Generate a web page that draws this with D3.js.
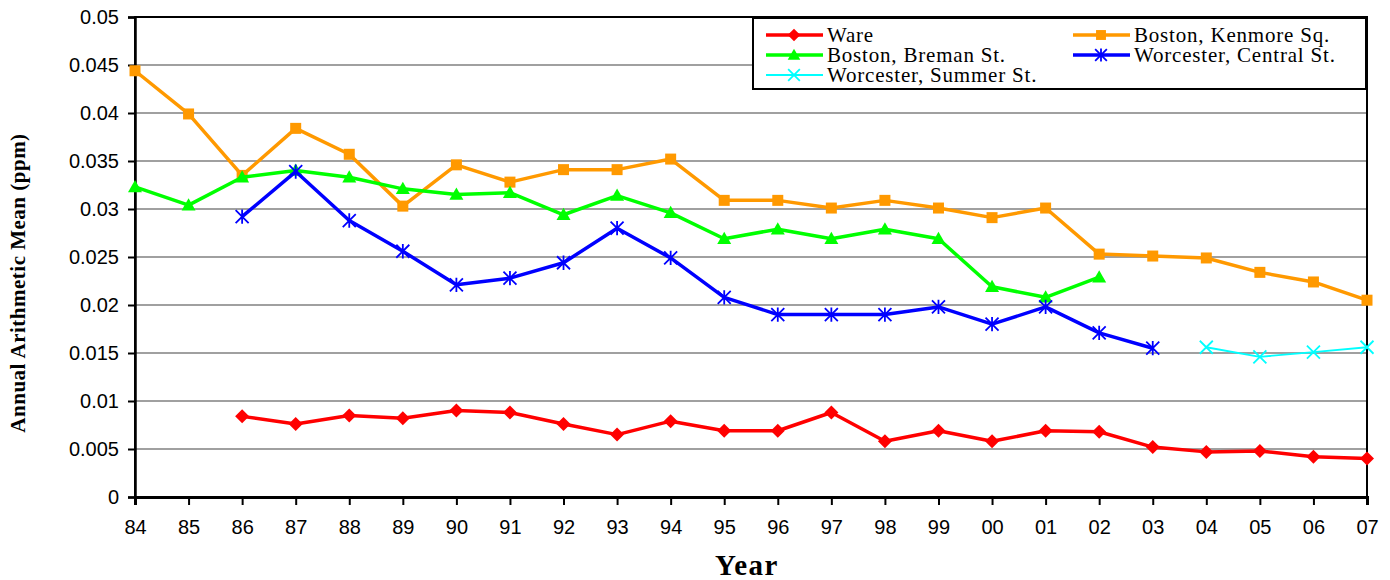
<!DOCTYPE html>
<html><head><meta charset="utf-8">
<script src="https://cdn.jsdelivr.net/npm/d3@7/dist/d3.min.js"></script>
<style>body{margin:0;background:#fff;}svg{display:block;}</style>
</head><body>
<svg id="chart" width="1390" height="580"></svg>
<script>
const years = ["84","85","86","87","88","89","90","91","92","93","94","95","96","97","98","99","00","01","02","03","04","05","06","07"];
const yTicks = [0,0.005,0.01,0.015,0.02,0.025,0.03,0.035,0.04,0.045,0.05];
const yTickLabels = ["0","0.005","0.01","0.015","0.02","0.025","0.03","0.035","0.04","0.045","0.05"];
const ware = [null,null,0.0084,0.0076,0.0085,0.0082,0.0090,0.0088,0.0076,0.0065,0.0079,0.0069,0.0069,0.0088,0.0058,0.0069,0.0058,0.0069,0.0068,0.0052,0.0047,0.0048,0.0042,0.0040];
const kenmore = [0.0444,0.0399,0.0335,0.0384,0.0357,0.0303,0.0346,0.0328,0.0341,0.0341,0.0352,0.0309,0.0309,0.0301,0.0309,0.0301,0.0291,0.0301,0.0253,0.0251,0.0249,0.0234,0.0224,0.0205];
const breman = [0.0323,0.0304,0.0333,0.0340,0.0333,0.0321,0.0315,0.0317,0.0294,0.0314,0.0296,0.0269,0.0279,0.0269,0.0279,0.0269,0.0219,0.0208,0.0229,null,null,null,null,null];
const central = [null,null,0.0292,0.0339,0.0288,0.0256,0.0221,0.0228,0.0244,0.0280,0.0249,0.0208,0.0190,0.0190,0.0190,0.0198,0.0180,0.0198,0.0171,0.0155,null,null,null,null];
const summer = [null,null,null,null,null,null,null,null,null,null,null,null,null,null,null,null,null,null,null,null,0.0156,0.0146,0.0151,0.0156];

const series = [
  {name:"Ware", values:ware, color:"#ff0000", width:3.5, marker:"diamond"},
  {name:"Boston, Kenmore Sq.", values:kenmore, color:"#ff9900", width:3.5, marker:"square"},
  {name:"Boston, Breman St.", values:breman, color:"#00ff00", width:3.5, marker:"triangle"},
  {name:"Worcester, Central St.", values:central, color:"#0000ff", width:3.5, marker:"star"},
  {name:"Worcester, Summer St.", values:summer, color:"#00ffff", width:1.8, marker:"x"}
];

const svg = d3.select("#chart");
const L = 135, R = 1367, T = 17, B = 497;
const x = d3.scalePoint().domain(years).range([L, R]);
const y = d3.scaleLinear().domain([0, 0.05]).range([B, T]);

// gridlines
svg.append("g").selectAll("line").data(yTicks.slice(1)).join("line")
  .attr("x1", L).attr("x2", R).attr("y1", d => y(d)).attr("y2", d => y(d))
  .attr("stroke", "#808080").attr("stroke-width", 1.6);

// plot border
svg.append("rect").attr("x", L).attr("y", T).attr("width", R - L).attr("height", B - T)
  .attr("fill", "none").attr("stroke", "#000").attr("stroke-width", 2);

// y axis
const yAxis = d3.axisLeft(y).tickValues(yTicks).tickFormat((d,i) => yTickLabels[i]).tickSize(7).tickPadding(9);
const gy = svg.append("g").attr("transform", `translate(${L},0)`).call(yAxis);
gy.select(".domain").attr("stroke-width", 2.5);
gy.selectAll(".tick line").attr("stroke-width", 2);
gy.selectAll("text").attr("font-family", "Arial, 'Liberation Sans', sans-serif").attr("font-size", 20).attr("fill", "#000");

// x axis
const xAxis = d3.axisBottom(x).tickSize(8).tickPadding(15);
const gx = svg.append("g").attr("transform", `translate(0,${B})`).call(xAxis);
gx.select(".domain").attr("stroke-width", 3);
gx.selectAll(".tick line").attr("stroke-width", 2);
gx.selectAll("text").attr("font-family", "Arial, 'Liberation Sans', sans-serif").attr("font-size", 20).attr("fill", "#000");

// axis titles
svg.append("text").attr("transform", `translate(25,283) rotate(-90)`)
  .attr("text-anchor", "middle").attr("font-family", "'Liberation Serif', 'Times New Roman', serif")
  .attr("font-weight", "bold").attr("font-size", 21).attr("letter-spacing", 0.5).text("Annual Arithmetic Mean (ppm)");
svg.append("text").attr("x", 747).attr("y", 575).attr("text-anchor", "middle")
  .attr("font-family", "'Liberation Serif', 'Times New Roman', serif")
  .attr("font-weight", "bold").attr("font-size", 29).attr("letter-spacing", 1.5).text("Year");

function drawMarker(g, type, color, cx, cy, scale) {
  const s = scale || 1;
  if (type === "diamond") {
    const r = 7 * s;
    g.append("path").attr("d", `M${cx},${cy-r}L${cx+r},${cy}L${cx},${cy+r}L${cx-r},${cy}Z`).attr("fill", color);
  } else if (type === "square") {
    const r = 5.5 * s;
    g.append("rect").attr("x", cx-r).attr("y", cy-r).attr("width", 2*r).attr("height", 2*r).attr("fill", color);
  } else if (type === "triangle") {
    const r = 7 * s;
    g.append("path").attr("d", `M${cx},${cy-r}L${cx+r},${cy+r*0.75}L${cx-r},${cy+r*0.75}Z`).attr("fill", color);
  } else if (type === "star") {
    const r = 6.5 * s;
    const p = `M${cx-r},${cy-r}L${cx+r},${cy+r}M${cx-r},${cy+r}L${cx+r},${cy-r}M${cx},${cy-r*1.1}L${cx},${cy+r*1.1}`;
    g.append("path").attr("d", p).attr("stroke", color).attr("stroke-width", 1.8).attr("fill", "none");
  } else if (type === "x") {
    const r = 6.5 * s;
    const p = `M${cx-r},${cy-r}L${cx+r},${cy+r}M${cx-r},${cy+r}L${cx+r},${cy-r}`;
    g.append("path").attr("d", p).attr("stroke", color).attr("stroke-width", 1.8).attr("fill", "none");
  }
}

const line = d3.line().defined(d => d.v != null).x(d => x(d.year)).y(d => y(d.v));
series.forEach(s => {
  const pts = s.values.map((v,i) => ({year: years[i], v}));
  const g = svg.append("g");
  g.append("path").datum(pts).attr("d", line).attr("fill", "none")
    .attr("stroke", s.color).attr("stroke-width", s.width).attr("stroke-linejoin", "round");
  pts.filter(p => p.v != null).forEach(p => drawMarker(g, s.marker, s.color, x(p.year), y(p.v)));
});

// legend
const lg = svg.append("g");
lg.append("rect").attr("x", 753).attr("y", 18).attr("width", 613).attr("height", 71)
  .attr("fill", "#fff").attr("stroke", "#000").attr("stroke-width", 2);
const legPos = [
  {x:766, y:35}, {x:1073, y:35}, {x:766, y:55}, {x:1073, y:55}, {x:766, y:75}
];
series.forEach((s,i) => {
  const p = legPos[i];
  lg.append("line").attr("x1", p.x).attr("x2", p.x + 57).attr("y1", p.y).attr("y2", p.y)
    .attr("stroke", s.color).attr("stroke-width", s.width);
  drawMarker(lg, s.marker, s.color, p.x + 28, p.y, 0.9);
  lg.append("text").attr("x", p.x + 61).attr("y", p.y + 7)
    .attr("font-family", "'Liberation Serif', 'Times New Roman', serif").attr("font-size", 21)
    .attr("letter-spacing", 0.8).text(s.name);
});
</script>
</body></html>
